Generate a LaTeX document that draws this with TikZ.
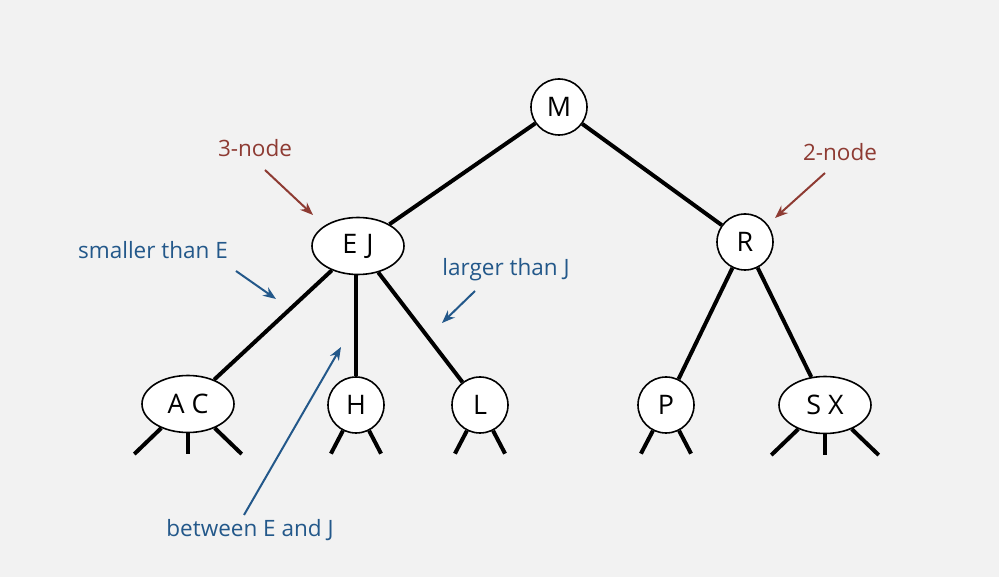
\documentclass[tikz,border=0pt]{standalone}
\usepackage{fontspec}
\setmainfont{Open Sans}
\usetikzlibrary{arrows.meta,shapes.geometric}

\definecolor{bgGray}{HTML}{F2F2F2}
\definecolor{noteRed}{HTML}{8E3B33}
\definecolor{noteBlue}{HTML}{23588A}

\begin{document}
\begin{tikzpicture}[
    x=0.5bp, y=-0.5bp,
    font=\fontsize{13.5}{15}\selectfont,
    twonode/.style={
        circle,
        draw=black,
        line width=0.8pt,
        fill=white,
        minimum size=28bp,
        inner sep=0pt
    },
    threenode/.style={
        ellipse,
        draw=black,
        line width=0.8pt,
        fill=white,
        minimum width=46bp,
        minimum height=28.5bp,
        inner sep=0pt
    },
    link/.style={line width=2pt, draw=black},
    note/.style={font=\fontsize{11.3}{13}\selectfont, inner sep=1pt},
    redarrow/.style={-{Stealth[length=6.5bp,width=5bp]}, line width=1pt, draw=noteRed},
    bluearrow/.style={-{Stealth[length=6.5bp,width=5bp]}, line width=1pt, draw=noteBlue}
]

% background / page size
\fill[bgGray] (0,0) rectangle (999,577);

% tree nodes
\node[twonode] (m) at (559,107) {M};
\node[threenode] (ej) at (358,246) {E\,\,J};
\node[twonode] (r) at (745,242) {R};
\node[threenode] (ac) at (188,404) {A C};
\node[twonode] (h) at (356,405) {H};
\node[twonode] (l) at (480,405) {L};
\node[twonode] (p) at (666,405) {P};
\node[threenode] (sx) at (825,405) {S X};

% links
\draw[link] (m) -- (ej);
\draw[link] (m) -- (r);
\draw[link] (ej) -- (ac);
\draw[link] (h |- ej.south) -- (h);
\draw[link] (ej) -- (l);
\draw[link] (r) -- (p);
\draw[link] (r) -- (sx);

% null links below the leaves
\foreach \n in {h,l,p} {
    \draw[link] (\n.243) -- ++(-12,23);
    \draw[link] (\n.297) -- ++(12,23);
}
\foreach \n in {ac,sx} {
    \draw[link] (\n.222) -- ++(-27,26);
    \draw[link] (\n.south) -- ++(0,21);
    \draw[link] (\n.318) -- ++(27,26);
}

% annotations
\node[note, text=noteRed] (threelabel) at (255,148) {3-node};
\coordinate (threetail) at (265,170);
\coordinate (threetip) at (313,215);
\draw[redarrow] (threetail) -- (threetip);

\node[note, text=noteRed] (twolabel) at (840,152) {2-node};
\coordinate (twotail) at (825,173);
\coordinate (twotip) at (775,218);
\draw[redarrow] (twotail) -- (twotip);

\node[note, text=noteBlue] (smallerlabel) at (153,250) {smaller than E};
\coordinate (smallertail) at (236,271);
\coordinate (smallertip) at (276,299);
\draw[bluearrow] (smallertail) -- (smallertip);

\node[note, text=noteBlue] (largerlabel) at (506,270) {larger than J};
\coordinate (largertail) at (475,291);
\coordinate (largertip) at (442,323);
\draw[bluearrow] (largertail) -- (largertip);

\node[note, text=noteBlue] (betweenlabel) at (250,530) {between E and J};
\coordinate (betweentail) at (244,515);
\coordinate (betweentip) at (341,347);
\draw[bluearrow] (betweentail) -- (betweentip);

\end{tikzpicture}
\end{document}
